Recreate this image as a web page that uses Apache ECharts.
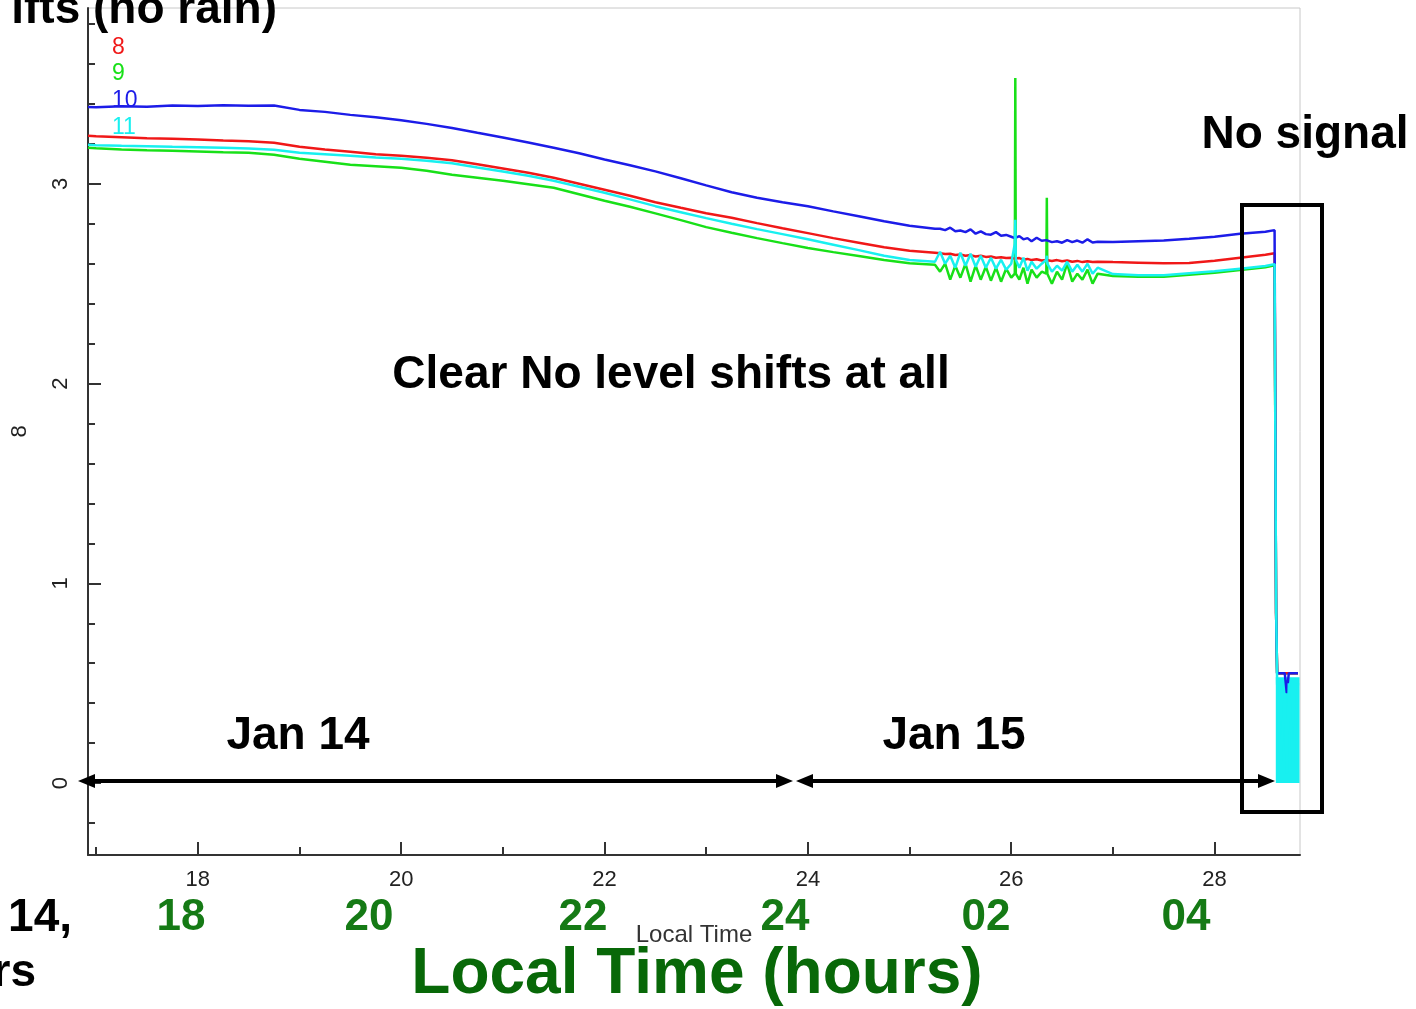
<!DOCTYPE html>
<html>
<head>
<meta charset="utf-8">
<title>Local Time</title>
<script src="https://cdn.jsdelivr.net/npm/echarts@6/dist/echarts.min.js"></script>
<style>
    html, body { margin: 0; padding: 0; background: #fff; }
    #chart { width: 1416px; height: 1009px; }
</style>
</head>
<body>
<div id="chart"></div>
<script>
// base time grid (hours), the noisy part 25.3 - 26.85 is kept separately
const hours = [16.92, 17.0, 17.25, 17.5, 17.75, 18.0, 18.25, 18.5, 18.75, 19.0, 19.25, 19.5, 19.75, 20.0, 20.25, 20.5, 20.75, 21.0, 21.25, 21.5, 21.75, 22.0, 22.25, 22.5, 22.75, 23.0, 23.25, 23.5, 23.75, 24.0, 24.25, 24.5, 24.75, 25.0, 25.25, 27.0, 27.25, 27.5, 27.75, 28.0, 28.25, 28.5, 28.59]
const ch8 = [3.24, 3.238, 3.233, 3.228, 3.225, 3.222, 3.217, 3.213, 3.205, 3.185, 3.172, 3.16, 3.148, 3.14, 3.13, 3.118, 3.098, 3.077, 3.055, 3.03, 3.0, 2.97, 2.94, 2.908, 2.88, 2.853, 2.83, 2.803, 2.777, 2.753, 2.728, 2.705, 2.682, 2.665, 2.655, 2.608, 2.605, 2.602, 2.603, 2.615, 2.63, 2.645, 2.652]
const ch9 = [3.18, 3.178, 3.172, 3.168, 3.165, 3.162, 3.158, 3.155, 3.145, 3.125, 3.11, 3.095, 3.088, 3.08, 3.065, 3.045, 3.03, 3.015, 2.998, 2.98, 2.948, 2.915, 2.885, 2.852, 2.818, 2.783, 2.755, 2.728, 2.703, 2.679, 2.658, 2.638, 2.618, 2.602, 2.595, 2.538, 2.535, 2.535, 2.545, 2.555, 2.568, 2.582, 2.592]
const ch10 = [3.385, 3.383, 3.388, 3.386, 3.392, 3.389, 3.393, 3.391, 3.392, 3.37, 3.36, 3.345, 3.333, 3.318, 3.30, 3.279, 3.255, 3.232, 3.207, 3.18, 3.153, 3.122, 3.093, 3.062, 3.028, 2.992, 2.958, 2.93, 2.908, 2.888, 2.862, 2.838, 2.812, 2.79, 2.775, 2.708, 2.712, 2.716, 2.725, 2.735, 2.75, 2.76, 2.768]
const ch11 = [3.195, 3.193, 3.19, 3.188, 3.185, 3.183, 3.18, 3.177, 3.17, 3.155, 3.148, 3.14, 3.132, 3.125, 3.115, 3.103, 3.082, 3.062, 3.04, 3.015, 2.985, 2.955, 2.922, 2.888, 2.858, 2.828, 2.8, 2.773, 2.748, 2.722, 2.695, 2.668, 2.64, 2.618, 2.61, 2.548, 2.542, 2.542, 2.552, 2.562, 2.575, 2.588, 2.598]

// noisy stretch around 01:00 - 03:00
const noiseHours = [25.30, 25.35, 25.40, 25.45, 25.50, 25.55, 25.60, 25.65, 25.70, 25.75, 25.80, 25.85, 25.90, 25.95, 26.00, 26.035, 26.04, 26.045, 26.08, 26.12, 26.16, 26.20, 26.25, 26.30, 26.345, 26.35, 26.355, 26.40, 26.45, 26.50, 26.55, 26.60, 26.65, 26.70, 26.75, 26.80, 26.85]
const ch8Noise = [2.652, 2.648, 2.65, 2.644, 2.646, 2.64, 2.643, 2.636, 2.64, 2.634, 2.636, 2.63, 2.632, 2.628, 2.63, 2.626, 2.624, 2.626, 2.628, 2.62, 2.624, 2.618, 2.622, 2.616, 2.618, 2.62, 2.618, 2.614, 2.618, 2.612, 2.616, 2.61, 2.614, 2.608, 2.612, 2.608, 2.61]
const ch9Noise = [2.56, 2.6, 2.52, 2.59, 2.53, 2.6, 2.51, 2.59, 2.52, 2.585, 2.515, 2.58, 2.51, 2.575, 2.53, 2.55, 3.53, 2.55, 2.52, 2.58, 2.5, 2.57, 2.53, 2.56, 2.55, 2.93, 2.55, 2.5, 2.56, 2.52, 2.6, 2.51, 2.55, 2.52, 2.57, 2.5, 2.55]
const ch10Noise = [2.775, 2.768, 2.78, 2.762, 2.766, 2.758, 2.772, 2.75, 2.762, 2.748, 2.745, 2.758, 2.74, 2.744, 2.735, 2.728, 2.72, 2.725, 2.738, 2.722, 2.728, 2.712, 2.73, 2.715, 2.718, 2.72, 2.716, 2.708, 2.712, 2.705, 2.718, 2.708, 2.716, 2.705, 2.722, 2.706, 2.71]
const ch11Noise = [2.66, 2.6, 2.64, 2.58, 2.655, 2.59, 2.65, 2.585, 2.64, 2.58, 2.63, 2.575, 2.62, 2.57, 2.6, 2.7, 2.82, 2.62, 2.58, 2.63, 2.565, 2.61, 2.575, 2.6, 2.62, 2.64, 2.6, 2.56, 2.59, 2.565, 2.61, 2.56, 2.595, 2.56, 2.6, 2.55, 2.58]

// signal lost at the end
const tailHours = [28.6, 28.605, 28.615, 28.65, 28.69, 28.71, 28.73, 28.77, 28.82]
const ch8Tail = [2.652, 0.85, 0.55, 0.55, 0.55, 0.55, 0.55, 0.55, 0.55]
const ch9Tail = [2.592, 0.85, 0.55, 0.55, 0.55, 0.55, 0.55, 0.55, 0.55]
const ch10Tail = [2.77, 0.85, 0.55, 0.55, 0.55, 0.45, 0.55, 0.55, 0.55]
const ch11Tail = [2.598, 0.9, 0.5, 0.1, 0.45, 0.05, 0.5, 0.1, 0.5]
const bandHours = [28.602, 28.835]
const bandTop = [0.53, 0.53]

// axis ticks
const xMajor = [18, 20, 22, 24, 26, 28]
const xMinor = [17, 19, 21, 23, 25, 27]
const yMajor = [0, 1, 2, 3]
const yMinor = [-0.2, 0.2, 0.4, 0.6, 0.8, 1.2, 1.4, 1.6, 1.8, 2.2, 2.4, 2.6, 2.8, 3.2, 3.4, 3.6, 3.8]
const clockLabels = ['18', '20', '22', '24', '02', '04']

const color = ['#f01818', '#18e018', '#1c1ce8', '#18f0f0']

function build(base, noise, tail) {
    let out = []
    for (let i = 0; i < hours.length; i++) {
        if (hours[i] < noiseHours[0]) out.push([hours[i], base[i]])
    }
    for (let i = 0; i < noiseHours.length; i++) out.push([noiseHours[i], noise[i]])
    for (let i = 0; i < hours.length; i++) {
        if (hours[i] > noiseHours[noiseHours.length - 1]) out.push([hours[i], base[i]])
    }
    for (let i = 0; i < tailHours.length; i++) out.push([tailHours[i], tail[i]])
    return out
}

const myChart = echarts.init(document.getElementById('chart'))

const font = '"Liberation Sans", Arial, sans-serif'
const lineStyle = (c) => ({ color: c, width: 2.5 })

let seriesOption = [
    { name: '9', type: 'line', data: build(ch9, ch9Noise, ch9Tail), lineStyle: lineStyle(color[1]) },
    { name: '8', type: 'line', data: build(ch8, ch8Noise, ch8Tail), lineStyle: lineStyle(color[0]) },
    { name: '10', type: 'line', data: build(ch10, ch10Noise, ch10Tail), lineStyle: lineStyle(color[2]) },
    { name: '11', type: 'line', data: build(ch11, ch11Noise, ch11Tail), lineStyle: lineStyle(color[3]) },
    {
        name: '11 no signal',
        type: 'line',
        z: 3,
        data: bandHours.map((h, i) => [h, bandTop[i]]),
        lineStyle: { width: 0 },
        areaStyle: { color: color[3], opacity: 1 }
    }
]
seriesOption.forEach(s => {
    s.showSymbol = false
    s.symbol = 'none'
    s.silent = true
})

// big bold annotation text
function label(text, x, y, size, fill, align) {
    return {
        type: 'text',
        z: 100,
        style: {
            text: text, x: x, y: y,
            fill: fill || '#000',
            font: 'bold ' + size + 'px ' + font,
            align: align || 'center', textAlign: align || 'center',
            verticalAlign: 'middle', textVerticalAlign: 'middle'
        }
    }
}
function arrowHead(tipX, dir) {
    return {
        type: 'polygon', z: 100,
        shape: { points: [[tipX, 781], [tipX - dir * 17, 774], [tipX - dir * 17, 788]] },
        style: { fill: '#000' }
    }
}
function hLine(x1, x2) {
    return {
        type: 'line', z: 100,
        shape: { x1: x1, y1: 781, x2: x2, y2: 781 },
        style: { stroke: '#000', lineWidth: 4 }
    }
}

let graphic = [
    label('ifts (no rain)', 277, 10, 46, '#000', 'right'),
    label('No signal', 1305, 135, 46),
    label('Clear No level shifts at all', 671, 375, 46),
    label('Jan 14', 298, 736, 46),
    label('Jan 15', 954, 736, 46),
    label('14,', 72, 918, 46, '#000', 'right'),
    label('rs', 36, 973, 46, '#000', 'right'),
    label('Local Time (hours)', 697, 975, 64, '#086808'),
    hLine(88, 782), arrowHead(78, -1), arrowHead(793, 1),
    hLine(806, 1262), arrowHead(796, -1), arrowHead(1275, 1),
    {
        type: 'rect', z: 100,
        shape: { x: 1242, y: 205, width: 80, height: 607 },
        style: { fill: 'none', stroke: '#000', lineWidth: 4 }
    }
]
// channel legend drawn as coloured numbers
const legendNames = ['8', '9', '10', '11']
const legendY = [48, 74, 101, 128]
legendNames.forEach((n, i) => {
    graphic.push({
        type: 'text', z: 100,
        style: { text: n, x: 112, y: legendY[i], fill: color[i], font: '23px ' + font, verticalAlign: 'middle', textVerticalAlign: 'middle' }
    })
})
// clock hour labels under the axis
const clockX = [181, 369, 583, 785, 986, 1186]
clockLabels.forEach((t, i) => {
    graphic.push(label(t, clockX[i], 918, 44, '#157a15'))
})

const xBase = {
    type: 'value', min: 16.92, max: 28.84,
    splitLine: { show: false }
}
const yBase = {
    type: 'value', min: -0.36, max: 3.88,
    splitLine: { show: false }
}

const option = {
    animation: false,
    backgroundColor: '#fff',
    grid: {
        left: 88, right: 116, top: 8, bottom: 154,
        outerBoundsMode: 'none',
        containLabel: false,
        show: true, borderColor: '#c8c8c8', borderWidth: 1
    },
    xAxis: [
        Object.assign({}, xBase, {
            name: 'Local Time',
            nameLocation: 'middle',
            nameGap: 68,
            nameTextStyle: { fontFamily: font, fontSize: 24, color: '#333' },
            axisLine: { onZero: false, lineStyle: { color: '#333', width: 2 } },
            axisTick: { inside: true, length: 13, customValues: xMajor, lineStyle: { color: '#333', width: 2 } },
            axisLabel: { customValues: xMajor, margin: 14, fontFamily: font, fontSize: 22, color: '#222' }
        }),
        Object.assign({}, xBase, {
            position: 'bottom',
            axisLine: { show: false, onZero: false },
            axisTick: { inside: true, length: 8, customValues: xMinor, lineStyle: { color: '#333', width: 2 } },
            axisLabel: { show: false }
        })
    ],
    yAxis: [
        Object.assign({}, yBase, {
            name: '8',
            nameLocation: 'middle',
            nameGap: 57,
            nameRotate: 90,
            nameTextStyle: { fontFamily: font, fontSize: 22, color: '#222' },
            axisLine: { show: true, onZero: false, lineStyle: { color: '#333', width: 2 } },
            axisTick: { show: true, inside: true, length: 13, customValues: yMajor, lineStyle: { color: '#333', width: 2 } },
            axisLabel: { customValues: yMajor, rotate: 90, margin: 16, fontFamily: font, fontSize: 22, color: '#222' }
        }),
        Object.assign({}, yBase, {
            position: 'left',
            axisLine: { show: false, onZero: false },
            axisTick: { show: true, inside: true, length: 7, customValues: yMinor, lineStyle: { color: '#333', width: 2 } },
            axisLabel: { show: false }
        })
    ],
    tooltip: { show: false },
    series: seriesOption,
    graphic: graphic
}
myChart.setOption(option)
</script>
</body>
</html>
